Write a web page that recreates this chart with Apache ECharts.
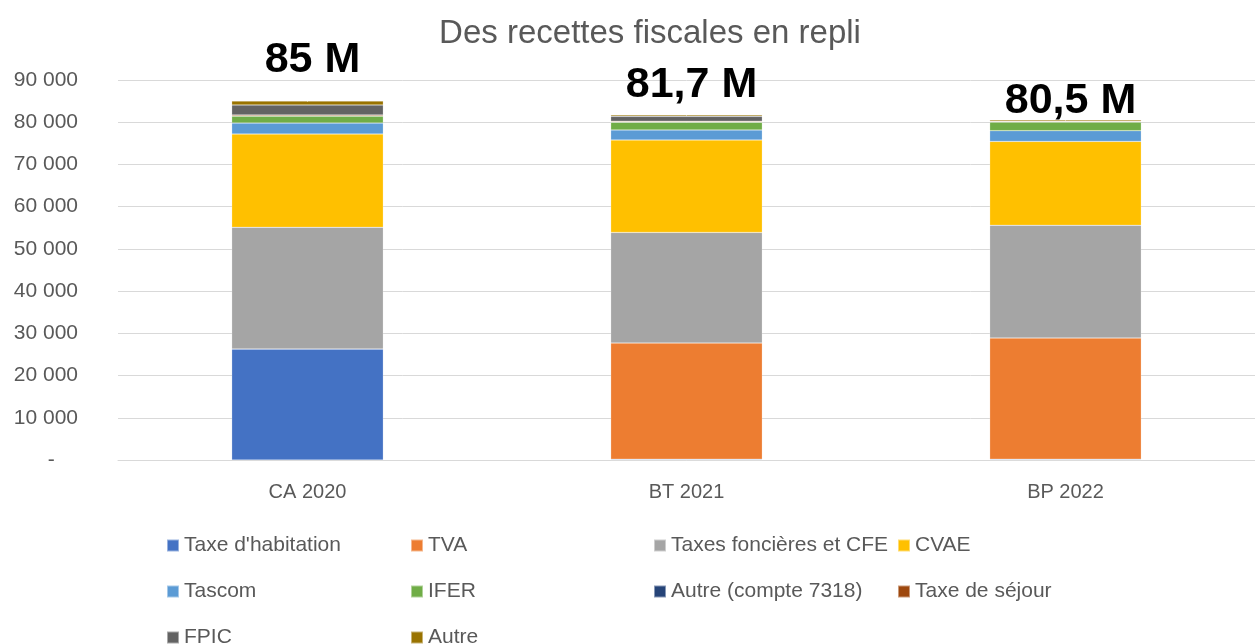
<!DOCTYPE html>
<html>
<head>
<meta charset="utf-8">
<script src="https://cdn.jsdelivr.net/npm/echarts@6/dist/echarts.min.js"></script>
<style>
  html, body { margin: 0; padding: 0; background: #fff; }
  #chart { width: 1255px; height: 644px; }
</style>
</head>
<body>
<div id="chart"></div>
<script>
const categories = ['CA 2020', 'BT 2021', 'BP 2022'];

const taxeHabitation = [26300, 200, 200];
const tva = [0, 27500, 28700];
const taxesFoncieres = [28800, 26200, 26680];
const cvae = [22100, 21900, 19880];
const tascom = [2600, 2380, 2540];
const ifer = [1650, 1830, 2050];
const autre7318 = [30, 30, 30];
const taxeSejour = [250, 200, 150];
const fpic = [2370, 1150, 0];
const autre = [900, 350, 300];

const totalLabels = ['85 M', '81,7 M', '80,5 M'];
const yTicks = [0, 10000, 20000, 30000, 40000, 50000, 60000, 70000, 80000, 90000];

const seriesDefs = [
  { name: "Taxe d'habitation", data: taxeHabitation, color: '#4472C4' },
  { name: 'TVA', data: tva, color: '#ED7D31' },
  { name: 'Taxes foncières et CFE', data: taxesFoncieres, color: '#A5A5A5' },
  { name: 'CVAE', data: cvae, color: '#FFC000' },
  { name: 'Tascom', data: tascom, color: '#5B9BD5' },
  { name: 'IFER', data: ifer, color: '#70AD47' },
  { name: 'Autre (compte 7318)', data: autre7318, color: '#264478' },
  { name: 'Taxe de séjour', data: taxeSejour, color: '#9E480E' },
  { name: 'FPIC', data: fpic, color: '#636363' },
  { name: 'Autre', data: autre, color: '#997300' }
];

const totals = categories.map((c, i) => seriesDefs.reduce((s, d) => s + d.data[i], 0));

// label lift above each bar (Excel placed them by hand)
const lift = [41, 30, 19];

const font = 'Liberation Sans, Arial, sans-serif';
const grey = '#595959';

const fmt = v => v === 0 ? '-    ' : String(v).replace(/\B(?=(\d{3})+(?!\d))/g, ' ');

const legendBase = {
  orient: 'vertical',
  top: 535,
  height: 160,
  padding: 0,
  itemGap: 25,
  itemWidth: 12,
  itemHeight: 12,
  icon: 'rect',
  selectedMode: false,
  textStyle: { fontFamily: font, fontSize: 21, color: grey }
};

const chart = echarts.init(document.getElementById('chart'));
chart.setOption({
  animation: false,
  title: {
    text: 'Des recettes fiscales en repli',
    left: 645,
    top: 12,
    textAlign: 'center',
    textStyle: { fontFamily: font, fontSize: 33, fontWeight: 'normal', color: grey }
  },
  legend: [
    Object.assign({}, legendBase, { left: 166, data: ["Taxe d'habitation", 'Tascom', 'FPIC'] }),
    Object.assign({}, legendBase, { left: 410, data: ['TVA', 'IFER', 'Autre'] }),
    Object.assign({}, legendBase, { left: 653, data: ['Taxes foncières et CFE', 'Autre (compte 7318)'] }),
    Object.assign({}, legendBase, { left: 897, data: ['CVAE', 'Taxe de séjour'] })
  ],
  grid: { left: 118, right: -13, top: 80, bottom: 184, containLabel: false },
  xAxis: {
    type: 'category',
    data: categories,
    axisLine: { lineStyle: { color: '#D9D9D9', width: 1 } },
    axisTick: { show: false },
    axisLabel: { fontFamily: font, fontSize: 20, color: grey, margin: 22 }
  },
  yAxis: {
    type: 'value',
    min: yTicks[0],
    max: yTicks[yTicks.length - 1],
    interval: yTicks[1] - yTicks[0],
    axisLine: { show: false },
    axisTick: { show: false },
    splitLine: { lineStyle: { color: '#D9D9D9', width: 1 } },
    axisLabel: { fontFamily: font, fontSize: 21, color: grey, margin: 40, formatter: fmt }
  },
  series: seriesDefs.map(d => ({
    name: d.name,
    type: 'bar',
    stack: 'total',
    barWidth: '40%',
    data: d.data,
    itemStyle: { color: d.color, borderColor: 'rgba(255,255,255,0.45)', borderWidth: 0.5 }
  })).concat([{
    name: 'Total',
    type: 'scatter',
    symbolSize: 1,
    silent: true,
    itemStyle: { color: '#ffffff', opacity: 1 },
    label: {
      show: true,
      position: 'inside',
      formatter: p => totalLabels[p.dataIndex],
      fontFamily: font,
      fontSize: 43,
      fontWeight: 'bold',
      color: '#000000',
      opacity: 1,
      textBorderWidth: 0
    },
    data: totals.map((t, i) => ({
      value: t,
      label: { offset: [5, -lift[i]] }
    }))
  }])
});
</script>
</body>
</html>
